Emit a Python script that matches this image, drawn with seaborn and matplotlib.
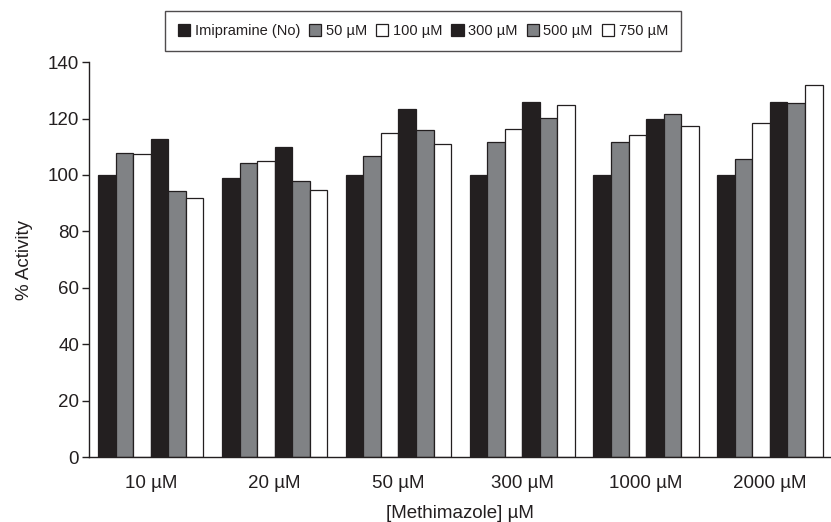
import matplotlib
matplotlib.use("Agg")
import matplotlib.pyplot as plt
import seaborn as sns
import pandas as pd
import numpy as np
from matplotlib.patches import Patch

categories = ["10 µM", "20 µM", "50 µM", "300 µM", "1000 µM", "2000 µM"]
series = ["Imipramine (No)", "50 µM", "100 µM", "300 µM", "500 µM", "750 µM"]
imip_no = [100.0, 99.0, 100.0, 100.0, 100.0, 100.0]
imip_50 = [107.7, 104.4, 106.6, 111.6, 111.6, 105.8]
imip_100 = [107.6, 104.8, 114.9, 116.3, 114.0, 118.5]
imip_300 = [112.8, 109.8, 123.3, 125.7, 119.9, 126.0]
imip_500 = [94.2, 98.0, 116.0, 120.1, 121.6, 125.6]
imip_750 = [92.0, 94.6, 110.9, 124.8, 117.3, 132.0]

values = [imip_no, imip_50, imip_100, imip_300, imip_500, imip_750]
rows = []
for s, vals in zip(series, values):
    for c, v in zip(categories, vals):
        rows.append({"cat": c, "series": s, "val": v})
df = pd.DataFrame(rows)

dark = "#231f20"
gray = "#808285"
white = "#ffffff"
colors = [dark, gray, white, dark, gray, white]
txt = "#231f20"

sns.set_theme(style="white")
plt.rcParams['font.family'] = ['Liberation Sans', 'DejaVu Sans']

fig = plt.figure(figsize=(8.31, 5.22), dpi=100)
ax = fig.add_axes([0.107, 0.1245, 0.894, 0.7565])

sns.barplot(data=df, x="cat", y="val", hue="series", order=categories,
            hue_order=series, palette=colors, width=0.85, ax=ax,
            edgecolor=dark, linewidth=0.9, saturation=1, legend=False)

ax.set_xlim(-0.5, 5.5)
ax.set_ylim(0, 140)
ax.set_yticks(np.arange(0, 141, 20))
for sp in ["top", "right"]:
    ax.spines[sp].set_visible(False)
for sp in ["left", "bottom"]:
    ax.spines[sp].set_color(dark)
    ax.spines[sp].set_linewidth(1.0)

ax.set_xticks(np.arange(len(categories)))
ax.set_xticklabels(categories)
ax.tick_params(axis="x", which="major", length=0, labelsize=13.5, colors=txt, pad=13)
ax.set_xticks(np.arange(-0.5, 5.6, 1.0), minor=True)
ax.tick_params(axis="x", which="minor", length=6, width=1.0, color=dark, direction="out")
ax.tick_params(axis="y", length=5, width=1.0, color=dark, direction="out",
               labelsize=13.5, labelcolor=txt, pad=2, left=True)

ax.set_xlabel("[Methimazole] µM", fontsize=13.5, color=txt, labelpad=9)
ax.set_ylabel("% Activity", fontsize=13.5, color=txt, labelpad=11)

handles = [Patch(facecolor=c, edgecolor=dark, linewidth=0.9) for c in colors]
leg = fig.legend(handles, series, loc="center", bbox_to_anchor=(0.509, 0.94),
                 ncol=6, frameon=True, fancybox=False, fontsize=10.5,
                 handlelength=0.85, handleheight=0.85, handletextpad=0.3,
                 columnspacing=0.62, borderpad=0.9)
leg.get_frame().set_edgecolor(dark)
leg.get_frame().set_linewidth(1.0)
for t in leg.get_texts():
    t.set_color(txt)

fig.savefig("out.png", dpi=100)
